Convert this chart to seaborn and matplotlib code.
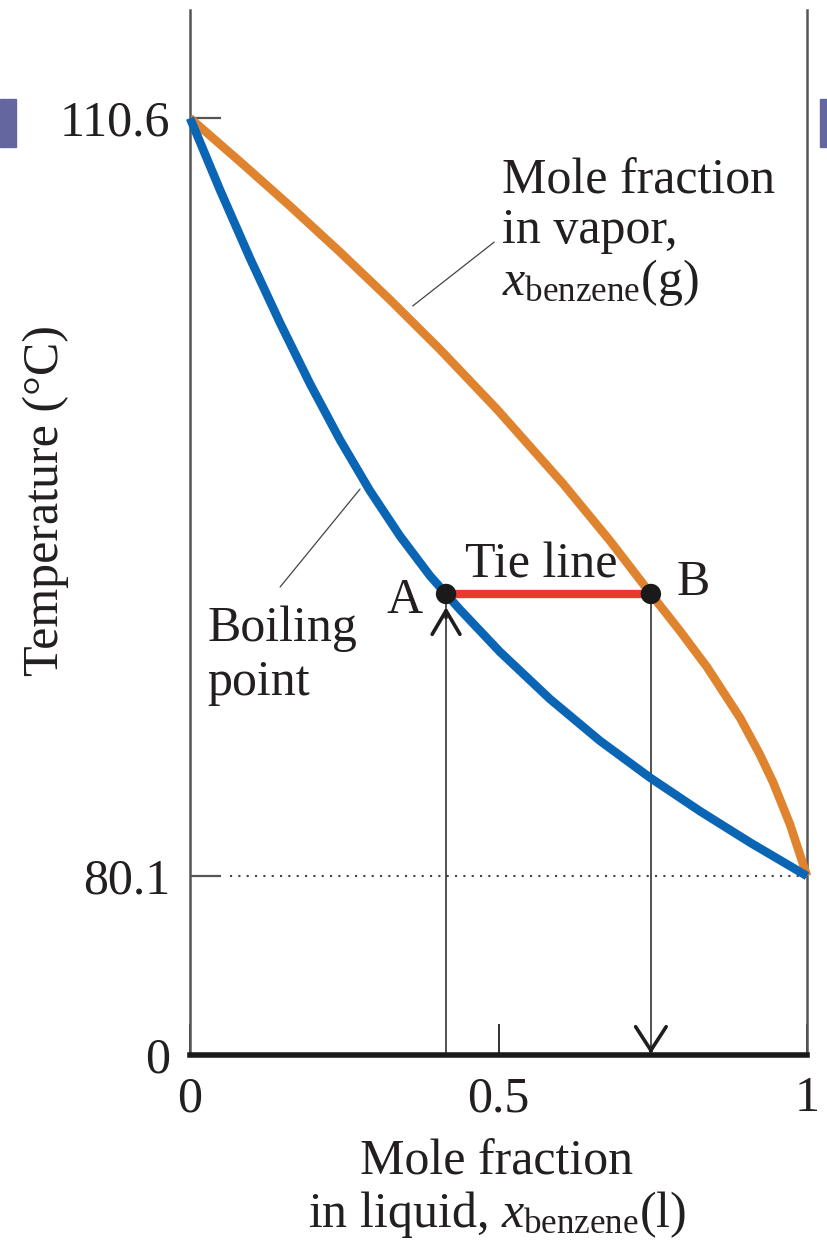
import numpy as np
import matplotlib
matplotlib.use("Agg")
import matplotlib.pyplot as plt
import seaborn as sns
from matplotlib.patches import Rectangle

# Boiling-point (liquid composition) curve
liquid_x = [0.0, 0.0486, 0.0972, 0.1459, 0.1945, 0.2431, 0.2917, 0.3404, 0.3890,
            0.415, 0.4376, 0.5024, 0.5835, 0.6645, 0.7455, 0.8266, 0.9076, 1.0]
liquid_t = [110.6, 107.71, 104.96, 102.36, 99.91, 97.65, 95.60, 93.78, 92.18,
            91.45, 90.82, 89.12, 87.22, 85.54, 84.06, 82.71, 81.45, 80.1]

# Vapor composition curve
vapor_x = [0.0, 0.0810, 0.1621, 0.2431, 0.3241, 0.4052, 0.4976, 0.6045, 0.6807,
           0.747, 0.7942, 0.8379, 0.8914, 0.9238, 0.9449, 0.9724, 1.0]
vapor_t = [110.6, 108.85, 107.06, 105.21, 103.29, 101.29, 98.88, 95.89, 93.59,
           91.45, 89.96, 88.51, 86.47, 84.98, 83.88, 82.18, 80.1]

# Tie line end points: A on the liquid curve, B on the vapor curve
tie_labels = ["A", "B"]
tie_x = [0.415, 0.747]
tie_t = [91.45, 91.45]

# Boiling points of the pure components
bp_benzene = 80.1
bp_toluene = 110.6

t_ticks = [0, 80.1, 110.6]
t_tick_labels = ["0", "80.1", "110.6"]
x_ticks = [0, 0.5, 1]
x_tick_labels = ["0", "0.5", "1"]

sns.set_theme(style="white")
plt.rcParams["font.family"] = ["Liberation Serif", "DejaVu Serif"]
plt.rcParams["mathtext.fontset"] = "custom"
plt.rcParams["mathtext.rm"] = "Liberation Serif"
plt.rcParams["mathtext.it"] = "Liberation Serif:italic"

TXT = "#231f20"
FS = 36
BLUE = "#0a66b5"
ORANGE = "#e0832f"
RED = "#e8392c"


# Broken temperature axis: compressed below the benzene boiling point,
# expanded between the two pure-component boiling points.
LOW_SPAN = 179.0
HIGH_SPAN = 758.0


def t_forward(t):
    t = np.asarray(t, dtype=float)
    return np.where(t <= bp_benzene, t * LOW_SPAN / bp_benzene,
                    LOW_SPAN + (t - bp_benzene) * HIGH_SPAN / (bp_toluene - bp_benzene))


def t_inverse(u):
    u = np.asarray(u, dtype=float)
    return np.where(u <= LOW_SPAN, u * bp_benzene / LOW_SPAN,
                    bp_benzene + (u - LOW_SPAN) * (bp_toluene - bp_benzene) / HIGH_SPAN)


fig = plt.figure(figsize=(8.27, 12.49), dpi=100)
ax = fig.add_axes([190 / 827, 1 - 1055 / 1249, 617 / 827, 1045 / 1249])
ax.set_yscale("function", functions=(t_forward, t_inverse))
ax.set_xlim(0, 1)
ax.set_ylim(0, 114.95)

# Phase-boundary curves
line_kw = dict(sort=False, estimator=None, lw=6.2, ax=ax, clip_on=False,
               solid_capstyle="butt", solid_joinstyle="round")
sns.lineplot(x=vapor_x, y=vapor_t, color=ORANGE, zorder=3, **line_kw)
sns.lineplot(x=liquid_x, y=liquid_t, color=BLUE, zorder=3, **line_kw)

# Tie line between A and B
sns.lineplot(x=tie_x, y=tie_t, sort=False, estimator=None, color=RED,
             lw=6, ax=ax, zorder=4, solid_capstyle="butt")

# Vertical composition guides
ax.vlines(tie_x, 0, tie_t, color="#333333", lw=1.2, zorder=2)

# Dotted reference at the benzene boiling point
ax.hlines(bp_benzene, 0.065, 1, color="#444444", lw=1.5,
          linestyles=(0, (1, 3)), zorder=1)

# Arrow heads: up to A, down from B
ax.annotate("", xy=(tie_x[0], 90.92), xytext=(tie_x[0], 90.5),
            arrowprops=dict(arrowstyle="->,head_length=0.85,head_width=0.5",
                            lw=2.6, color="#1e1e1e", shrinkA=0, shrinkB=0,
                            mutation_scale=20), zorder=5)
ax.annotate("", xy=(tie_x[1], 0.6), xytext=(tie_x[1], 3.0),
            arrowprops=dict(arrowstyle="->,head_length=0.85,head_width=0.55",
                            lw=2.6, color="#1e1e1e", shrinkA=0, shrinkB=0,
                            mutation_scale=20), zorder=5)

# End-point markers
sns.scatterplot(x=tie_x, y=tie_t, s=215, color="#1a1a1a", edgecolor="none",
                ax=ax, zorder=6, clip_on=False)

# Leader lines for the curve labels
ax.plot([0.493, 0.361], [105.61, 103.04], color="#444444", lw=0.9, zorder=2)
ax.plot([0.146, 0.2755], [91.73, 95.67], color="#444444", lw=0.9, zorder=2)

# Curve and point annotations
ax.text(0.506, 107.58, "Mole fraction", fontsize=FS, color=TXT, ha="left", va="baseline")
ax.text(0.506, 105.57, "in vapor,", fontsize=FS, color=TXT, ha="left", va="baseline")
ax.text(0.506, 103.48, r"$x_{\mathrm{benzene}}$(g)", fontsize=FS, color=TXT,
        ha="left", va="baseline")
ax.text(0.028, 89.56, "Boiling", fontsize=FS, color=TXT, ha="left", va="baseline")
ax.text(0.028, 87.38, "point", fontsize=FS, color=TXT, ha="left", va="baseline")
ax.text(0.347, 90.68, tie_labels[0], fontsize=FS, color=TXT, ha="center", va="baseline")
ax.text(0.788, 91.41, tie_labels[1], fontsize=FS, color=TXT, ha="left", va="baseline")
ax.text(0.446, 92.13, "Tie line", fontsize=FS, color=TXT, ha="left", va="baseline")

# Axes, ticks, labels
ax.set_yticks(t_ticks)
ax.set_yticklabels(t_tick_labels)
ax.set_xticks(x_ticks)
ax.set_xticklabels(x_tick_labels)
ax.yaxis.set_minor_locator(matplotlib.ticker.NullLocator())
ax.xaxis.set_minor_locator(matplotlib.ticker.NullLocator())
ax.tick_params(axis="y", direction="in", length=22, width=1.6, color="#555555",
               labelsize=FS, labelcolor=TXT, pad=14, left=True)
ax.tick_params(axis="x", direction="in", length=22, width=1.3, color="#222222",
               labelsize=FS, labelcolor=TXT, pad=15, bottom=True)

ax.set_ylabel("Temperature (°C)", fontsize=FS, color=TXT)
ax.yaxis.set_label_coords(-0.196, 0.531)
ax.set_xlabel("Mole fraction\nin liquid, $x_{\\mathrm{benzene}}$(l)", fontsize=FS,
              color=TXT, linespacing=1.1)
ax.xaxis.set_label_coords(0.4976, -0.080)

for side in ("left", "right"):
    ax.spines[side].set_color("#555555")
    ax.spines[side].set_linewidth(1.8)
ax.spines["bottom"].set_color("#1a1a1a")
ax.spines["bottom"].set_linewidth(4)
ax.spines["top"].set_visible(False)
ax.grid(False)

# Slide-edge tabs
for x0, w in ((0, 16), (820, 7)):
    fig.patches.append(Rectangle((x0 / 827, 1 - 147 / 1249), w / 827, 48 / 1249,
                                 transform=fig.transFigure, color="#6466a0",
                                 zorder=0))

fig.savefig("out.png", dpi=100)
